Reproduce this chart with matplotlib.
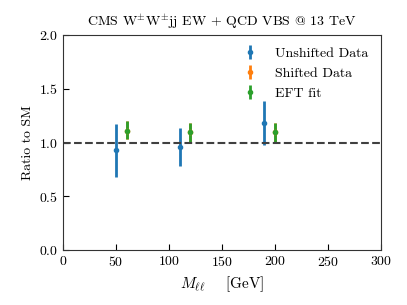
import numpy as np
import matplotlib
matplotlib.use("Agg")
import matplotlib.pyplot as plt

plt.rcParams['font.family'] = 'serif'
plt.rcParams['font.serif'] = ['cmr10', 'DejaVu Serif']
plt.rcParams['mathtext.fontset'] = 'cm'
plt.rcParams['axes.unicode_minus'] = False
plt.rcParams['axes.formatter.use_mathtext'] = True
plt.rcParams['font.size'] = 10

# data
x_data = [50, 110, 190]
y_data = [0.93, 0.96, 1.18]
err_lo = [0.25, 0.18, 0.20]
err_hi = [0.24, 0.18, 0.21]

x_fit = [60, 120, 200]
y_fit = [1.11, 1.10, 1.10]
fit_lo = [0.08, 0.09, 0.09]
fit_hi = [0.09, 0.08, 0.08]

# shifted data sits under the fit points
y_shift = [1.11, 1.10, 1.10]
shift_lo = [0.08, 0.09, 0.09]
shift_hi = [0.09, 0.08, 0.08]

fig = plt.figure(figsize=(4.07, 3.05), dpi=100)
ax = fig.add_axes([0.155, 0.18, 0.781, 0.705])

ax.errorbar(x_data, y_data, yerr=[err_lo, err_hi], fmt='o', ms=3, elinewidth=2,
            color='tab:blue', label='Unshifted Data')
ax.errorbar(x_fit, y_shift, yerr=[shift_lo, shift_hi], fmt='o', ms=3, elinewidth=2,
            color='tab:orange', label='Shifted Data')
ax.errorbar(x_fit, y_fit, yerr=[fit_lo, fit_hi], fmt='o', ms=3, elinewidth=2,
            color='tab:green', label='EFT fit')
ax.axhline(1.0, color='0.25', ls='--', lw=1.5)

ax.set_xlim(0, 300)
ax.set_ylim(0, 2)
ax.set_xticks(np.arange(0, 301, 50))
ax.set_yticks(np.arange(0, 2.01, 0.5))
ax.tick_params(direction='in', length=4)
for s in ax.spines.values():
    s.set_color('0.2')
ax.set_xlabel(r'$M_{\ell\ell}$    [GeV]', fontsize=11)
ax.set_ylabel('Ratio to SM')
ax.set_title(r'CMS W$^{\pm}$W$^{\pm}$jj EW + QCD VBS @ 13 TeV', fontsize=10)
ax.legend(loc='upper right', frameon=False)

fig.savefig('out.png', dpi=100)
